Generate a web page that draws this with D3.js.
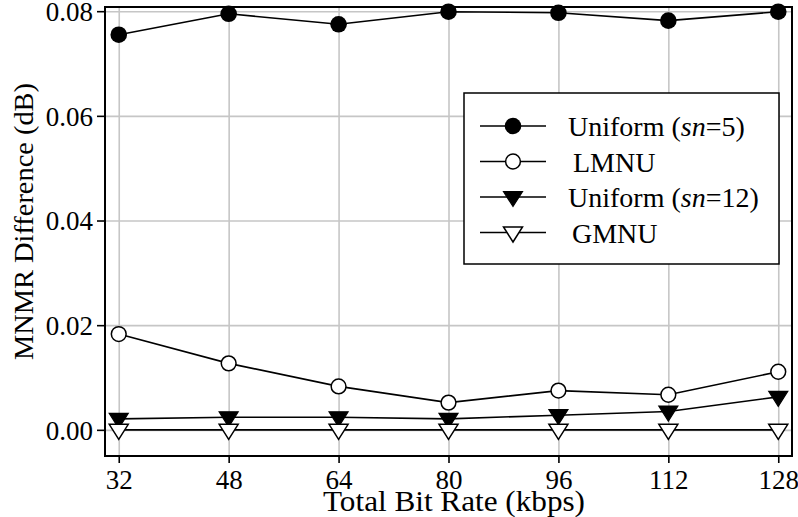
<!DOCTYPE html>
<html>
<head>
<meta charset="utf-8">
<script src="https://cdn.jsdelivr.net/npm/d3@7"></script>
<style>
  html, body { margin: 0; padding: 0; background: #fff; }
  svg { display: block; font-family: "Liberation Serif", "Times New Roman", serif; }
</style>
</head>
<body>
<svg id="chart" width="798" height="517"></svg>
<script>
// Bit rates (kbps) on the horizontal axis
const bitRates = [32, 48, 64, 80, 96, 112, 128];

// MNMR difference (dB) for each quantisation scheme
const uniformSn5  = [0.0755, 0.0795, 0.0775, 0.0799, 0.0797, 0.0782, 0.0799];
const lmnu        = [0.0183, 0.0127, 0.0083, 0.0052, 0.0075, 0.0067, 0.0111];
const uniformSn12 = [0.0021, 0.0024, 0.0024, 0.0021, 0.0028, 0.0035, 0.0063];
const gmnu        = [0.0000, 0.0000, 0.0000, 0.0000, 0.0000, 0.0000, 0.0000];

const xTicks = [32, 48, 64, 80, 96, 112, 128];
const yTicks = [0.00, 0.02, 0.04, 0.06, 0.08];

const seriesNames = ["Uniform (sn=5)", "LMNU", "Uniform (sn=12)", "GMNU"];
const seriesValues = [uniformSn5, lmnu, uniformSn12, gmnu];
const seriesMarkers = ["dot", "circle", "triDown", "triDownOpen"];

const svg = d3.select("#chart");
const plot = { left: 105, right: 792, top: 7, bottom: 456 };

const x = d3.scaleLinear().domain([30, 130]).range([plot.left, plot.right]);
const y = d3.scaleLinear().domain([-0.005, 0.0808]).range([plot.bottom, plot.top]);

// grid
svg.append("g")
  .attr("transform", `translate(0,${plot.bottom})`)
  .call(d3.axisBottom(x).tickValues(xTicks).tickSize(-(plot.bottom - plot.top)).tickFormat(""))
  .call(g => g.select(".domain").remove())
  .call(g => g.selectAll("line").attr("stroke", "#c6c6c6").attr("stroke-width", 1.6));
svg.append("g")
  .attr("transform", `translate(${plot.left},0)`)
  .call(d3.axisLeft(y).tickValues(yTicks).tickSize(-(plot.right - plot.left)).tickFormat(""))
  .call(g => g.select(".domain").remove())
  .call(g => g.selectAll("line").attr("stroke", "#c6c6c6").attr("stroke-width", 1.6));

// axes with outward ticks
const xAxis = svg.append("g")
  .attr("transform", `translate(0,${plot.bottom})`)
  .call(d3.axisBottom(x).tickValues(xTicks).tickSize(7).tickPadding(5));
const yAxis = svg.append("g")
  .attr("transform", `translate(${plot.left},0)`)
  .call(d3.axisLeft(y).tickValues(yTicks).tickFormat(d3.format(".2f")).tickSize(8).tickPadding(4));
[xAxis, yAxis].forEach(g => {
  g.select(".domain").remove();
  g.selectAll("line").attr("stroke", "#000").attr("stroke-width", 1.6);
  g.selectAll("text").attr("fill", "#000").attr("font-family", "Liberation Serif, serif").attr("font-size", 27);
});
xAxis.selectAll("text").attr("dy", null).attr("y", 33);
yAxis.selectAll("text").attr("dy", "0.34em");

// frame
svg.append("rect")
  .attr("x", plot.left).attr("y", plot.top)
  .attr("width", plot.right - plot.left).attr("height", plot.bottom - plot.top)
  .attr("fill", "none").attr("stroke", "#000").attr("stroke-width", 2);

// axis titles
svg.append("text")
  .attr("x", 454).attr("y", 511)
  .attr("text-anchor", "middle").attr("font-size", 30)
  .attr("textLength", 262).attr("lengthAdjust", "spacingAndGlyphs")
  .text("Total Bit Rate (kbps)");
svg.append("text")
  .attr("transform", "translate(33,221.5) rotate(-90)")
  .attr("text-anchor", "middle").attr("font-size", 27)
  .attr("textLength", 277).attr("lengthAdjust", "spacingAndGlyphs")
  .text("MNMR Difference (dB)");

// marker drawing
const triPath = "M-9.5,-5.5L9.5,-5.5L0,9.5Z";
function drawMarker(sel, kind) {
  if (kind === "dot") {
    sel.append("circle").attr("r", 8.3).attr("fill", "#000");
  } else if (kind === "circle") {
    sel.append("circle").attr("r", 7.4).attr("fill", "#fff").attr("stroke", "#000").attr("stroke-width", 1.5);
  } else if (kind === "triDown") {
    sel.append("path").attr("d", triPath).attr("fill", "#000").attr("stroke", "#000").attr("stroke-width", 1.2);
  } else {
    sel.append("path").attr("d", triPath).attr("fill", "#fff").attr("stroke", "#000").attr("stroke-width", 1.5);
  }
}

const line = d3.line().x((d, i) => x(bitRates[i])).y(d => y(d));

seriesValues.forEach((vals, s) => {
  const g = svg.append("g");
  g.append("path").datum(vals).attr("d", line)
    .attr("fill", "none").attr("stroke", "#000").attr("stroke-width", 1.6);
  vals.forEach((v, i) => {
    const m = g.append("g").attr("transform", `translate(${x(bitRates[i])},${y(v)})`);
    drawMarker(m, seriesMarkers[s]);
  });
});

// legend
const legend = svg.append("g");
legend.append("rect")
  .attr("x", 464).attr("y", 93).attr("width", 315).attr("height", 171)
  .attr("fill", "#fff").attr("stroke", "#000").attr("stroke-width", 1.5);
const rowY = [126, 161.5, 197, 232.5];
const textX = [568, 573, 568, 572];
seriesNames.forEach((name, i) => {
  const r = legend.append("g").attr("transform", `translate(0,${rowY[i]})`);
  r.append("line").attr("x1", 480).attr("x2", 546).attr("y1", 0).attr("y2", 0)
    .attr("stroke", "#000").attr("stroke-width", 1.6);
  const m = r.append("g").attr("transform", "translate(513,0)");
  drawMarker(m, seriesMarkers[i]);
  const t = r.append("text").attr("x", textX[i]).attr("y", 10).attr("font-size", 28);
  const match = name.match(/^(.*\()sn(=.*)$/);
  if (match) {
    t.append("tspan").text(match[1]);
    t.append("tspan").attr("font-style", "italic").text("sn");
    t.append("tspan").text(match[2]);
  } else {
    t.text(name);
  }
});
</script>
</body>
</html>
